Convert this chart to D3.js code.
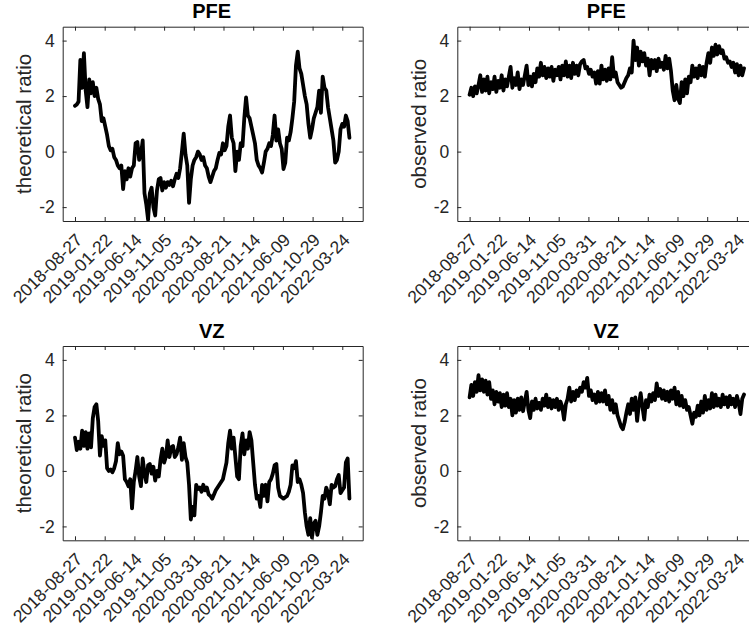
<!DOCTYPE html>
<html>
<head>
<meta charset="utf-8">
<script src="https://cdn.jsdelivr.net/npm/d3@7"></script>
<style>
  html, body { margin: 0; padding: 0; background: #fff; }
  svg { display: block; font-family: "Liberation Sans", Arial, Helvetica, sans-serif; }
</style>
</head>
<body>
<svg id="chart" width="749" height="634"></svg>
<script>
const dateTicks = ["2018-08-27","2019-01-22","2019-06-14","2019-11-05","2020-03-31",
                   "2020-08-21","2021-01-14","2021-06-09","2021-10-29","2022-03-24"];
const tickIndex = [0,100,200,300,400,500,600,700,800,900];
const yTicks = [-2,0,2,4];

const pfeTheo = [
  1.65,1.7,1.8,3.3,2.3,3.55,2.2,1.6,2.6,2.1,
  2.5,2.0,2.3,1.9,1.7,1.1,1.2,0.9,0.6,0.2,
  0.05,0.1,-0.2,-0.3,-0.5,-0.6,-0.5,-1.35,-0.7,-1.0,
  -0.6,-0.9,-0.6,-0.5,0.3,0.35,-0.3,-0.1,0.4,-1.5,
  -1.9,-2.45,-1.5,-1.3,-2.0,-2.3,-1.4,-1.0,-0.95,-1.4,
  -1.1,-1.3,-1.1,-1.2,-1.05,-1.25,-1.0,-0.8,-0.95,-0.6,
  0.0,0.65,-0.1,-0.5,-1.85,-1.0,-0.5,-0.3,-0.2,0.0,
  -0.1,-0.3,-0.2,-0.5,-0.6,-0.9,-1.1,-0.9,-0.7,-0.6,
  -0.3,-0.05,-0.1,0.3,0.05,0.2,0.9,1.3,0.5,0.3,
  -0.7,0.0,-0.3,0.3,0.2,1.2,1.95,1.3,1.2,0.9,
  0.6,0.3,-0.3,-0.5,-0.6,-0.75,-0.4,0.0,0.1,0.3,
  0.2,0.6,1.3,0.4,0.8,0.3,0.1,-0.63,-0.4,0.5,
  0.4,0.7,1.2,1.8,3.1,3.6,3.0,2.8,2.4,2.0,
  1.7,1.0,0.5,0.8,1.2,1.4,1.6,2.2,1.4,2.7,
  2.3,2.2,1.6,1.2,0.8,0.4,-0.4,-0.3,0.0,0.8,
  1.0,0.9,1.3,1.1,0.5
];
const pfeObs = [
  2.05,2.3,2.0,2.35,2.1,2.4,2.75,2.15,2.6,2.2,
  2.7,2.1,2.5,2.25,2.7,2.15,2.55,2.3,2.75,2.2,
  2.6,2.35,2.7,3.05,2.3,2.65,2.4,2.85,2.25,2.6,
  2.4,2.75,3.1,2.4,2.7,2.35,2.8,2.5,3.0,2.7,
  3.2,2.75,3.05,2.65,3.0,2.7,3.05,2.55,2.95,2.75,
  3.05,2.6,3.1,2.75,3.25,2.7,3.1,2.65,3.2,2.8,
  3.1,2.75,3.15,3.25,3.3,3.0,3.05,2.8,2.95,2.7,
  2.85,2.45,2.9,2.45,3.1,2.6,2.95,2.55,3.0,2.6,
  3.4,2.7,2.85,2.5,2.4,2.3,2.35,2.5,2.65,2.75,
  3.0,2.85,4.0,3.3,3.75,3.1,3.6,3.25,3.55,3.1,
  3.35,2.75,3.3,3.0,3.3,2.9,3.35,3.05,3.2,2.95,
  3.45,3.0,3.35,2.9,2.2,1.85,2.4,1.9,1.75,2.5,
  2.0,2.6,2.1,2.7,2.5,3.1,2.7,3.0,2.65,3.1,
  2.75,3.05,2.7,3.2,3.55,3.2,3.75,3.45,3.85,3.5,
  3.8,3.55,3.65,3.35,3.4,3.2,3.25,3.05,3.2,2.85,
  3.15,2.75,3.1,2.75,3.0
];
const vzTheo = [
  1.2,0.75,1.05,0.8,1.45,0.9,1.4,0.8,1.35,0.85,
  1.9,2.3,2.4,1.8,0.55,1.25,0.9,1.1,0.1,0.0,
  0.05,-0.05,0.1,0.35,1.0,0.6,0.7,0.55,-0.3,-0.4,
  -0.55,-0.3,-1.35,-0.4,0.0,0.5,-0.2,-0.55,0.45,-0.1,
  -0.4,0.2,0.25,-0.1,0.15,-0.35,0.0,-0.2,0.4,0.8,
  0.3,0.5,1.1,0.5,0.85,0.9,0.5,0.6,0.85,1.2,
  0.4,1.0,0.5,0.3,-0.5,-1.75,-1.3,-1.6,-0.5,-0.65,
  -0.6,-0.75,-0.5,-0.7,-0.6,-0.85,-0.9,-1.0,-0.85,-0.7,
  -0.6,-0.5,-0.4,-0.3,0.0,0.3,1.0,1.45,0.8,1.2,
  0.5,-0.2,-0.3,0.9,1.35,0.6,1.1,0.8,1.4,1.1,
  0.3,-0.5,-1.0,-0.9,-1.3,-0.5,-0.9,-0.5,-1.1,-0.4,
  -0.3,-0.1,0.2,0.25,-0.6,-0.9,-0.95,-1.0,-0.95,-0.9,
  -0.75,-0.5,0.2,0.1,0.35,-0.4,-0.3,-0.5,-0.8,-1.5,
  -2.0,-2.3,-1.7,-2.4,-1.9,-1.8,-2.3,-2.0,-1.5,-0.9,
  -1.0,-0.6,-0.8,-1.2,-0.5,-0.6,-0.55,-0.3,-0.15,-0.8,
  -0.7,-0.6,0.3,0.45,-1.0
];
const vzObs = [
  2.65,3.1,2.7,3.2,2.85,3.45,2.9,3.3,2.85,3.25,
  2.75,3.2,2.6,2.9,2.4,2.85,2.5,2.8,2.3,2.75,
  2.35,2.8,2.3,2.6,2.0,2.55,2.1,2.6,2.2,2.65,
  2.15,2.5,2.85,2.2,1.9,2.5,2.2,2.6,2.25,2.45,
  2.2,2.6,2.35,2.75,2.3,2.6,2.25,2.55,2.3,2.6,
  2.2,2.5,2.3,1.85,2.4,2.6,3.0,2.5,2.85,2.55,
  2.9,2.7,3.0,2.85,3.2,3.0,3.35,2.7,2.9,2.55,
  2.75,2.45,2.85,2.5,2.8,2.5,2.9,2.4,2.7,2.2,
  2.55,2.1,2.4,2.0,1.8,1.6,1.5,1.75,2.1,2.4,
  2.05,2.6,2.2,2.65,1.8,2.4,2.8,2.3,1.85,2.55,
  2.3,2.75,2.5,2.8,2.55,3.15,2.7,2.95,2.6,2.9,
  2.55,2.85,2.5,2.9,2.6,3.0,2.4,2.85,2.35,2.7,
  2.3,2.55,2.2,2.3,2.0,1.7,2.1,1.95,2.35,2.0,
  2.5,2.1,2.7,2.2,2.55,2.25,2.8,2.3,2.75,2.35,
  2.6,2.3,2.75,2.4,2.65,2.3,2.7,2.4,2.6,2.3,
  2.7,2.45,2.05,2.6,2.75
];
const sampleStep = 6;
const titles = ["PFE","PFE","VZ","VZ"];
const yLabels = ["theoretical ratio","observed ratio","theoretical ratio","observed ratio"];

// ---- layout ----
const svg = d3.select("#chart");
const axisColor = "#262626";
const panelW = 300, panelH = 194.3;
const panels = [
  {x: 62.7,  y: 26.7, data: pfeTheo},
  {x: 457.3, y: 26.7, data: pfeObs},
  {x: 62.7,  y: 346,  data: vzTheo},
  {x: 457.3, y: 346,  data: vzObs}
];
const fmtY = d => (d < 0 ? "-" + Math.abs(d) : String(d));

const defs = svg.append("defs");

panels.forEach((p, k) => {
  const g = svg.append("g").attr("transform", `translate(${p.x},${p.y})`);
  const x = d3.scaleLinear().domain([-41.4, 968.7]).range([0, panelW]);
  const y = d3.scaleLinear().domain([-2.5, 4.5]).range([panelH, 0]);

  defs.append("clipPath").attr("id", "clip" + k)
    .append("rect").attr("x", 0).attr("y", 0).attr("width", panelW).attr("height", panelH);

  // data line
  const line = d3.line().x((d, i) => x(i * sampleStep)).y(d => y(d));
  g.append("path")
    .datum(p.data)
    .attr("clip-path", `url(#clip${k})`)
    .attr("fill", "none")
    .attr("stroke", "#000")
    .attr("stroke-width", 3.8)
    .attr("stroke-linejoin", "round")
    .attr("stroke-linecap", "round")
    .attr("d", line);

  // bottom axis (ticks inside)
  const xAxis = d3.axisBottom(x).tickValues(tickIndex).tickSize(-4).tickSizeOuter(0)
    .tickFormat((d, i) => dateTicks[i]);
  const gx = g.append("g").attr("transform", `translate(0,${panelH})`).call(xAxis);
  gx.select(".domain").attr("stroke", axisColor);
  gx.selectAll(".tick line").attr("stroke", axisColor);
  gx.selectAll(".tick text")
    .attr("fill", axisColor)
    .attr("font-size", 17.5)
    .attr("text-anchor", "end")
    .attr("y", 0).attr("dy", 0)
    .attr("transform", "translate(8,20) rotate(-45)");

  // top axis ticks
  const xTop = d3.axisTop(x).tickValues(tickIndex).tickSize(-4).tickSizeOuter(0).tickFormat("");
  const gt = g.append("g").call(xTop);
  gt.select(".domain").attr("stroke", axisColor);
  gt.selectAll(".tick line").attr("stroke", axisColor);

  // left axis
  const yAxis = d3.axisLeft(y).tickValues(yTicks).tickSize(-4).tickSizeOuter(0).tickPadding(8)
    .tickFormat(fmtY);
  const gy = g.append("g").call(yAxis);
  gy.select(".domain").attr("stroke", axisColor);
  gy.selectAll(".tick line").attr("stroke", axisColor);
  gy.selectAll(".tick text").attr("fill", axisColor).attr("font-size", 17.5);

  // right axis
  const yRight = d3.axisRight(y).tickValues(yTicks).tickSize(-4).tickSizeOuter(0).tickFormat("");
  const gr = g.append("g").attr("transform", `translate(${panelW},0)`).call(yRight);
  gr.select(".domain").attr("stroke", axisColor);
  gr.selectAll(".tick line").attr("stroke", axisColor);

  // title
  g.append("text")
    .attr("x", panelW / 2 - 1).attr("y", -8.5)
    .attr("text-anchor", "middle")
    .attr("font-weight", "bold")
    .attr("font-size", 20)
    .attr("fill", "#000")
    .text(titles[k]);

  // y label
  g.append("text")
    .attr("transform", `translate(-31.5,${panelH / 2}) rotate(-90)`)
    .attr("text-anchor", "middle")
    .attr("font-size", 20.5)
    .attr("fill", axisColor)
    .text(yLabels[k]);
});
</script>
</body>
</html>
